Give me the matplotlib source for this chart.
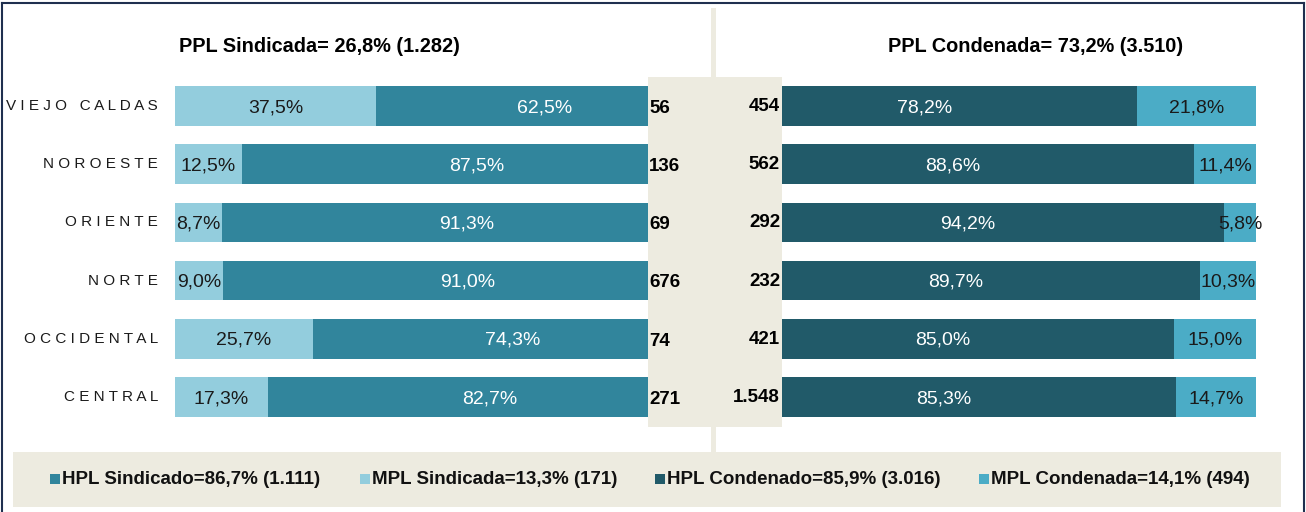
import matplotlib.pyplot as plt
from matplotlib.patches import Rectangle
from matplotlib.lines import Line2D
import matplotlib.transforms as mtransforms

plt.rcParams['font.family'] = ['Liberation Sans', 'DejaVu Sans']

categories = ['VIEJO CALDAS', 'NOROESTE', 'ORIENTE', 'NORTE', 'OCCIDENTAL', 'CENTRAL']
mpl_sind = [37.5, 12.5, 8.7, 9.0, 25.7, 17.3]
hpl_sind = [62.5, 87.5, 91.3, 91.0, 74.3, 82.7]
n_sind = [56, 136, 69, 676, 74, 271]
hpl_cond = [78.2, 88.6, 94.2, 89.7, 85.0, 85.3]
mpl_cond = [21.8, 11.4, 5.8, 10.3, 15.0, 14.7]
n_cond = [454, 562, 292, 232, 421, 1548]

title_sind = 'PPL Sindicada= 26,8% (1.282)'
title_cond = 'PPL Condenada= 73,2% (3.510)'
legend_labels = ['HPL Sindicado=86,7% (1.111)', 'MPL Sindicada=13,3% (171)',
                 'HPL Condenado=85,9% (3.016)', 'MPL Condenada=14,1% (494)']

c_light = '#93CDDD'
c_mid = '#31859C'
c_dark = '#215A69'
c_cond_light = '#4BACC6'
beige = '#EDEBE0'
legend_colors = [c_mid, c_light, c_dark, c_cond_light]

W, H = 1306, 512
fig = plt.figure(figsize=(W / 100, H / 100), dpi=100)


def fx(x):
    return x / W


def fy(y):
    return 1 - y / H


def pct(v):
    return f'{v:.1f}%'.replace('.', ',')


def thousands(n):
    return f'{n:,}'.replace(',', '.')


top, bottom = 77, 426
axL = fig.add_axes([fx(175), fy(bottom), (712 - 175) / W, (bottom - top) / H])
axR = fig.add_axes([fx(712), fy(bottom), (1256 - 712) / W, (bottom - top) / H])

y = list(range(len(categories)))
bh = 0.68
fs_pct = 14
dy = 0.03  # labels sit a touch below the bar centre

# sindicada (left)
axL.barh(y, mpl_sind, height=bh, color=c_light)
axL.barh(y, hpl_sind, left=mpl_sind, height=bh, color=c_mid)
for i in y:
    axL.text(mpl_sind[i] / 2, i + dy, pct(mpl_sind[i]), ha='center', va='center',
             fontsize=fs_pct, color='#1a1a1a')
    axL.text(mpl_sind[i] + hpl_sind[i] / 2, i + dy, pct(hpl_sind[i]), ha='center',
             va='center', fontsize=fs_pct, color='white')

# condenada (right)
axR.barh(y, hpl_cond, height=bh, color=c_dark)
axR.barh(y, mpl_cond, left=hpl_cond, height=bh, color=c_cond_light)
for i in y:
    axR.text(hpl_cond[i] / 2, i + dy, pct(hpl_cond[i]), ha='center', va='center',
             fontsize=fs_pct, color='white')
    axR.text(hpl_cond[i] + mpl_cond[i] / 2, i + dy, pct(mpl_cond[i]), ha='center',
             va='center', fontsize=fs_pct, color='#1a1a1a')

for ax in (axL, axR):
    ax.set_xlim(0, 100)
    ax.set_ylim(len(categories) - 0.5, -0.5)
    ax.axis('off')

# category labels with letter spacing
trL = mtransforms.blended_transform_factory(fig.transFigure, axL.transData)
for i, cat in enumerate(categories):
    spaced = '   '.join(' '.join(w) for w in cat.split())
    fig.text(fx(158), i, spaced, transform=trL, ha='right', va='center',
             fontsize=11, color='#1a1a1a')

# vertical separator and centre box
fig.add_artist(Line2D([fx(712.5), fx(712.5)], [fy(10), fy(452)], color=beige,
                      lw=3.6, zorder=0.5))
fig.add_artist(Rectangle((fx(648), fy(427)), (782 - 648) / W, (427 - top) / H,
                         transform=fig.transFigure, facecolor=beige,
                         edgecolor='none', zorder=2))
for i in y:
    fig.text(fx(649), i + 0.04, str(n_sind[i]), transform=trL, ha='left',
             va='center', fontsize=13.5, fontweight='bold', color='black', zorder=3)
    fig.text(fx(780), i + 0.01, thousands(n_cond[i]), transform=trL, ha='right',
             va='center', fontsize=13.5, fontweight='bold', color='black', zorder=3)

# titles
fig.text(fx(319), fy(47), title_sind, ha='center', va='center', fontsize=14.3,
         fontweight='bold')
fig.text(fx(1036), fy(47), title_cond, ha='center', va='center', fontsize=14.3,
         fontweight='bold')

# legend box
fig.add_artist(Rectangle((fx(13), fy(507)), (1281 - 13) / W, (507 - 452) / H,
                         transform=fig.transFigure, facecolor=beige,
                         edgecolor='none', zorder=1))
sq_x = [50, 360, 655, 979]
for x0, lab, col in zip(sq_x, legend_labels, legend_colors):
    fig.add_artist(Rectangle((fx(x0), fy(484)), 10 / W, 10 / H,
                             transform=fig.transFigure, facecolor=col,
                             edgecolor='none', zorder=2))
    fig.text(fx(x0 + 12), fy(480), lab, ha='left', va='center', fontsize=13.5,
             fontweight='bold', color='#111111', zorder=2)

# outer frame
border = '#1F2F4F'
for xs, ys in [([fx(1.5), fx(1.5)], [0, fy(3)]),
               ([fx(1.5), fx(1303.5)], [fy(3), fy(3)]),
               ([fx(1303.5), fx(1303.5)], [fy(3), 0])]:
    fig.add_artist(Line2D(xs, ys, color=border, lw=1.5))

fig.savefig('out.png', dpi=100)
